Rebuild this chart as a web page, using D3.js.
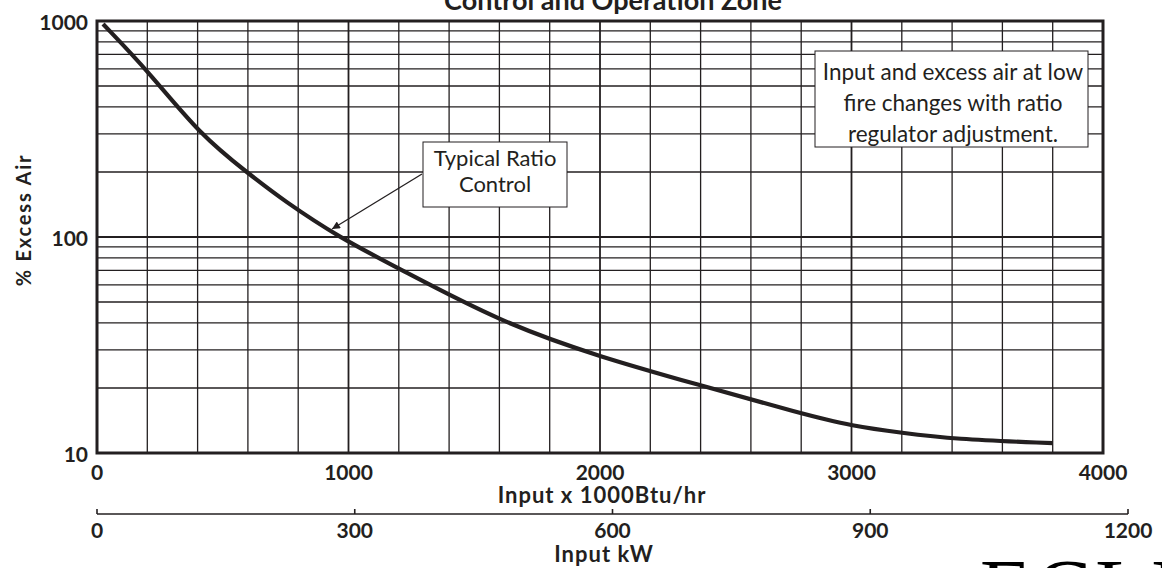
<!DOCTYPE html>
<html>
<head>
<meta charset="utf-8">
<script src="https://cdn.jsdelivr.net/npm/d3@7"></script>
<style>
  html, body { margin: 0; padding: 0; background: #fff; overflow: hidden; }
  svg { display: block; }
  .bold { font-family: Lato, "Open Sans", sans-serif; font-weight: 700; fill: #231f20; }
  .note { font-family: Lato, "Open Sans", sans-serif; font-weight: 400; fill: #231f20; }
</style>
</head>
<body>
<svg id="chart" width="1162" height="568"></svg>
<script>
  // ---- Data ----
  const inputBtu = [24, 203, 410, 604, 740, 966, 1205, 1602, 2000, 2398, 2800, 3006, 3200, 3403, 3801];
  const excessAir = [968, 587, 297, 196, 148, 99, 71, 40.5, 27.8, 20.6, 15.2, 13.3, 12.4, 11.6, 11.1];

  const btuTicks = [0, 1000, 2000, 3000, 4000];
  const kwTicks = [0, 300, 600, 900, 1200];
  const yTicks = [10, 100, 1000];
  const noteLines = ["Input and excess air at low", "fire changes with ratio", "regulator adjustment."];
  const calloutLines = ["Typical Ratio", "Control"];

  // ---- Layout ----
  const plot = { left: 97, right: 1103, top: 21, bottom: 453 };
  const ink = "#231f20";

  const svg = d3.select("#chart");

  const x = d3.scaleLinear().domain([0, 4000]).range([plot.left, plot.right]);
  const xKw = d3.scaleLinear().domain([0, 1200]).range([plot.left, 1128]);
  const y = d3.scaleLog().domain([10, 1000]).range([plot.bottom, plot.top]);

  // ---- Grid ----
  const grid = svg.append("g").attr("class", "grid");
  const vLines = d3.range(200, 4000, 200);
  grid.selectAll("line.v")
    .data(vLines)
    .join("line")
    .attr("x1", d => x(d)).attr("x2", d => x(d))
    .attr("y1", plot.top).attr("y2", plot.bottom)
    .attr("stroke", ink)
    .attr("stroke-width", d => d % 1000 === 0 ? 1.8 : 1.3);

  const hLines = [];
  [10, 100].forEach(dec => d3.range(2, 10).forEach(m => hLines.push(dec * m)));
  hLines.push(100);
  grid.selectAll("line.h")
    .data(hLines)
    .join("line")
    .attr("x1", plot.left).attr("x2", plot.right)
    .attr("y1", d => y(d)).attr("y2", d => y(d))
    .attr("stroke", ink)
    .attr("stroke-width", d => d === 100 ? 1.8 : 1.3);

  // frame
  svg.append("rect")
    .attr("x", plot.left).attr("y", plot.top)
    .attr("width", plot.right - plot.left).attr("height", plot.bottom - plot.top)
    .attr("fill", "none").attr("stroke", ink).attr("stroke-width", 3);

  // ---- Curve ----
  const pts = inputBtu.map((v, i) => [v, excessAir[i]]);
  const line = d3.line().x(d => x(d[0])).y(d => y(d[1])).curve(d3.curveBasis);
  svg.append("path")
    .datum(pts)
    .attr("d", line)
    .attr("fill", "none")
    .attr("stroke", ink)
    .attr("stroke-width", 4.2)
    .attr("stroke-linecap", "butt");

  // ---- Axis labels ----
  svg.append("g").selectAll("text")
    .data(yTicks)
    .join("text")
    .attr("class", "bold")
    .attr("x", 88)
    .attr("y", d => y(d) + 9)
    .attr("text-anchor", "end")
    .attr("font-size", 21)
    .text(d => d);

  svg.append("g").selectAll("text")
    .data(btuTicks)
    .join("text")
    .attr("class", "bold")
    .attr("x", d => x(d))
    .attr("y", 480)
    .attr("text-anchor", "middle")
    .attr("font-size", 21)
    .text(d => d);

  svg.append("text")
    .attr("class", "bold")
    .attr("x", 602).attr("y", 503)
    .attr("text-anchor", "middle")
    .attr("font-size", 22)
    .attr("letter-spacing", 1)
    .text("Input x 1000Btu/hr");

  // kW axis
  const kwAxis = svg.append("g");
  kwAxis.append("line")
    .attr("x1", xKw(0)).attr("x2", xKw(1200))
    .attr("y1", 514).attr("y2", 514)
    .attr("stroke", ink).attr("stroke-width", 1.6);
  kwAxis.selectAll("line.t")
    .data(kwTicks)
    .join("line")
    .attr("x1", d => xKw(d)).attr("x2", d => xKw(d))
    .attr("y1", 514).attr("y2", 509)
    .attr("stroke", ink).attr("stroke-width", 1.6);
  kwAxis.selectAll("text")
    .data(kwTicks)
    .join("text")
    .attr("class", "bold")
    .attr("x", d => xKw(d))
    .attr("y", 538)
    .attr("text-anchor", "middle")
    .attr("font-size", 21)
    .text(d => d);

  svg.append("text")
    .attr("class", "bold")
    .attr("x", 604).attr("y", 562)
    .attr("text-anchor", "middle")
    .attr("font-size", 22)
    .attr("letter-spacing", 1)
    .text("Input kW");

  svg.append("text")
    .attr("class", "bold")
    .attr("transform", "translate(31,220) rotate(-90)")
    .attr("text-anchor", "middle")
    .attr("font-size", 20)
    .attr("letter-spacing", 1.8)
    .text("% Excess Air");

  // title (clipped at top in the reference)
  svg.append("text")
    .attr("class", "bold")
    .attr("x", 613).attr("y", 10)
    .attr("text-anchor", "middle")
    .attr("font-size", 27)
    .text("Control and Operation Zone");

  // ---- Note box ----
  svg.append("rect")
    .attr("x", 815).attr("y", 51).attr("width", 273).attr("height", 96)
    .attr("fill", "#fff").attr("stroke", ink).attr("stroke-width", 1);
  svg.append("g").selectAll("text")
    .data(noteLines)
    .join("text")
    .attr("class", "note")
    .attr("x", 953)
    .attr("y", (d, i) => 80 + i * 31)
    .attr("text-anchor", "middle")
    .attr("font-size", 22.5)
    .text(d => d);

  // ---- Callout ----
  svg.append("defs").append("marker")
    .attr("id", "arrow")
    .attr("viewBox", "0 0 10 10")
    .attr("refX", 10).attr("refY", 5)
    .attr("markerWidth", 12).attr("markerHeight", 8)
    .attr("markerUnits", "userSpaceOnUse")
    .attr("orient", "auto")
    .append("path").attr("d", "M0,0 L10,5 L0,10 Z").attr("fill", ink);

  svg.append("line")
    .attr("x1", 422).attr("y1", 174)
    .attr("x2", 332).attr("y2", 229)
    .attr("stroke", ink).attr("stroke-width", 1.3)
    .attr("marker-end", "url(#arrow)");

  svg.append("rect")
    .attr("x", 423).attr("y", 142).attr("width", 144).attr("height", 65)
    .attr("fill", "#fff").attr("stroke", ink).attr("stroke-width", 1);
  svg.append("g").selectAll("text")
    .data(calloutLines)
    .join("text")
    .attr("class", "note")
    .attr("x", 495)
    .attr("y", (d, i) => 166 + i * 26)
    .attr("text-anchor", "middle")
    .attr("font-size", 22)
    .text(d => d);

  // ---- Logo fragment at the bottom edge ----
  svg.append("text")
    .attr("x", 980).attr("y", 618)
    .attr("font-family", "'Liberation Serif', 'DejaVu Serif', serif")
    .attr("font-size", 84)
    .attr("fill", "#000")
    .attr("letter-spacing", 4)
    .text("ECLIPSE");
</script>
</body>
</html>
